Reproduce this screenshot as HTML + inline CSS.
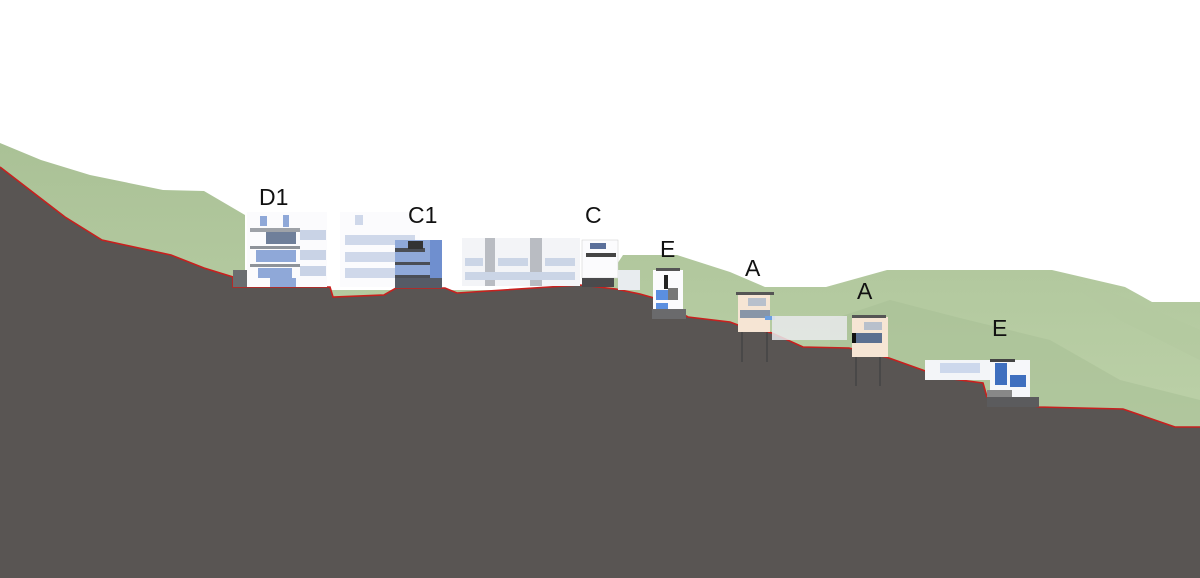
<!DOCTYPE html>
<html><head><meta charset="utf-8"><style>
html,body{margin:0;padding:0;background:#fff;width:1200px;height:578px;overflow:hidden}
text{font-family:"Liberation Sans",sans-serif;font-size:23px;fill:#111}
</style></head><body>
<svg width="1200" height="578" viewBox="0 0 1200 578" xmlns="http://www.w3.org/2000/svg">
<defs>
<linearGradient id="g" x1="0" y1="0" x2="0" y2="1"><stop offset="0" stop-color="#aac196"/><stop offset="1" stop-color="#bcd1a8"/></linearGradient>
</defs>
<polygon fill="url(#g)" points="0,143 41,160 90,175 163,190 204,191 245,215 245,290 600,290 623,255 677,255 730,272 765,287 826,287 887,270 1052,270 1125,287 1152,302 1200,302 1200,430 0,430"/>
<polygon fill="#a9c096" opacity="0.6" points="830,320 890,300 960,318 1050,340 1120,380 1200,400 1200,430 830,430"/>
<polygon fill="#b4c9a0" opacity="0.7" points="1060,275 1130,300 1200,330 1200,360 1120,320"/>
<polygon fill="#595553" points="0,167 65,217 102,240 171,255 204,268 233,277 233,287 330,287 333,297 384,295 396,288 445,288 457,293 580,285 616,289 640,294 654,298 688,317 730,322 738,325 772,333 803,347 849,348 889,358 945,378 983,383 987,397 1039,407 1123,409 1175,427 1200,427 1200,578 0,578"/>
<polyline fill="none" stroke="#c8201e" stroke-width="1.6" points="0,167 65,217 102,240 171,255 204,268 233,277 233,287 330,287 333,297 384,295 396,288 445,288 457,293 580,285 616,289 640,294 654,298 688,317 730,322 738,325 772,333 803,347 849,348 889,358 945,378 983,383 987,397 1039,407 1123,409 1175,427 1200,427"/>
<rect x="233" y="270" width="14" height="17" fill="#6a6d70"/>
<rect x="247" y="212" width="80" height="75" fill="#fbfbfd"/>
<g fill="#8fa8d8">
<rect x="260" y="216" width="7" height="10"/><rect x="283" y="215" width="6" height="12"/>
<rect x="250" y="228" width="50" height="4" fill="#9ea2a8"/>
<rect x="266" y="232" width="30" height="12" fill="#6f7f9a"/>
<rect x="250" y="246" width="50" height="3" fill="#8e939a"/>
<rect x="256" y="250" width="40" height="12"/><rect x="250" y="264" width="50" height="3" fill="#8e939a"/>
<rect x="258" y="268" width="34" height="10"/><rect x="270" y="278" width="26" height="9"/>
</g>
<g fill="#c9d3e6"><rect x="300" y="230" width="26" height="10"/><rect x="300" y="250" width="26" height="10"/><rect x="300" y="266" width="26" height="10"/></g>
<rect x="340" y="212" width="80" height="75" fill="#fbfbfd"/>
<g fill="#cfd8ea"><rect x="345" y="235" width="70" height="10"/><rect x="345" y="252" width="70" height="10"/><rect x="345" y="268" width="70" height="10"/><rect x="355" y="215" width="8" height="10"/></g>
<rect x="395" y="240" width="47" height="48" fill="#8fa9d9"/>
<rect x="395" y="248" width="30" height="4" fill="#4a4e55"/>
<rect x="395" y="262" width="40" height="3" fill="#4a4e55"/>
<rect x="395" y="275" width="40" height="3" fill="#4a4e55"/>
<rect x="395" y="278" width="47" height="10" fill="#555b66"/>
<rect x="408" y="241" width="15" height="8" fill="#333"/>
<rect x="430" y="240" width="12" height="38" fill="#6f8fcf"/>
<rect x="462" y="238" width="118" height="48" fill="#f3f4f7"/>
<rect x="485" y="238" width="10" height="48" fill="#b9bcc2"/><rect x="530" y="238" width="12" height="48" fill="#b9bcc2"/>
<g fill="#cbd5e6"><rect x="465" y="258" width="18" height="8"/><rect x="498" y="258" width="30" height="8"/><rect x="545" y="258" width="30" height="8"/><rect x="465" y="272" width="110" height="8"/></g>
<rect x="582" y="240" width="36" height="38" fill="#fbfbfd" stroke="#ccc" stroke-width="0.5"/>
<rect x="590" y="243" width="16" height="6" fill="#5a6f9a"/>
<rect x="586" y="253" width="30" height="4" fill="#444"/>
<rect x="582" y="278" width="32" height="9" fill="#4a4a4c"/>
<rect x="618" y="270" width="22" height="20" fill="#e8ecef"/>
<rect x="653" y="270" width="30" height="48" fill="#fbfbfd"/>
<rect x="656" y="268" width="24" height="3" fill="#555"/>
<rect x="664" y="275" width="4" height="14" fill="#222"/>
<rect x="656" y="290" width="12" height="10" fill="#5b8fe0"/>
<rect x="656" y="303" width="12" height="6" fill="#5b8fe0"/>
<rect x="668" y="288" width="10" height="12" fill="#777"/>
<rect x="652" y="309" width="34" height="10" fill="#6a6a6c"/>
<rect x="738" y="294" width="32" height="38" fill="#f6e5d4"/>
<rect x="736" y="292" width="38" height="3" fill="#555"/>
<rect x="748" y="298" width="18" height="8" fill="#b8c0cc"/>
<rect x="740" y="310" width="30" height="8" fill="#8896a8"/>
<rect x="765" y="316" width="10" height="4" fill="#6da0e0"/>
<rect x="772" y="316" width="75" height="24" fill="#e9eaec" opacity="0.85"/>
<g stroke="#444" stroke-width="1.5"><line x1="742" y1="332" x2="742" y2="362"/><line x1="767" y1="332" x2="767" y2="362"/></g>
<rect x="852" y="317" width="36" height="40" fill="#f6e5d4"/>
<rect x="852" y="315" width="34" height="3" fill="#555"/>
<rect x="864" y="322" width="18" height="8" fill="#b8c0cc"/>
<rect x="852" y="333" width="30" height="10" fill="#5b6f90"/>
<rect x="852" y="333" width="4" height="10" fill="#111"/>
<g stroke="#444" stroke-width="1.5"><line x1="856" y1="357" x2="856" y2="386"/><line x1="880" y1="357" x2="880" y2="386"/></g>
<rect x="925" y="360" width="65" height="20" fill="#f3f5f8"/>
<rect x="940" y="363" width="40" height="10" fill="#cdd8ec"/>
<rect x="990" y="360" width="40" height="40" fill="#f6f7fa"/>
<rect x="990" y="359" width="25" height="3" fill="#444"/>
<rect x="995" y="363" width="12" height="22" fill="#3f6fbf"/>
<rect x="1010" y="375" width="16" height="12" fill="#3f6fbf"/>
<rect x="987" y="390" width="25" height="10" fill="#888"/>
<rect x="987" y="397" width="52" height="10" fill="#5b5b5d"/>
<text x="259" y="205">D1</text>
<text x="408" y="223">C1</text>
<text x="585" y="223">C</text>
<text x="660" y="257">E</text>
<text x="745" y="276">A</text>
<text x="857" y="299">A</text>
<text x="992" y="336">E</text>
</svg>
</body></html>
